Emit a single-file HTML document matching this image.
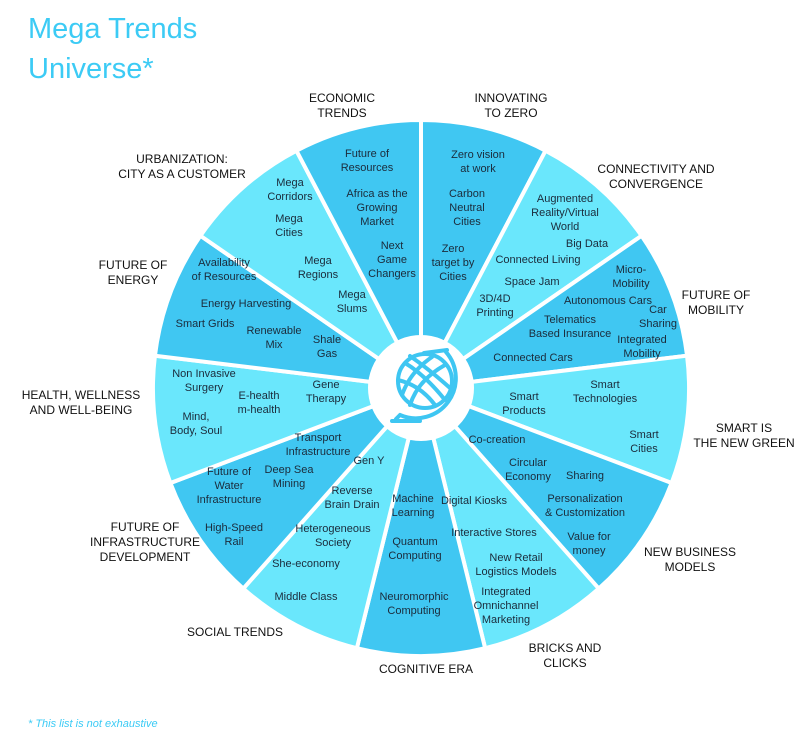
<!DOCTYPE html>
<html><head><meta charset="utf-8"><style>
body{margin:0;background:#fff;}
svg{display:block;font-family:"Liberation Sans",sans-serif;}
</style></head><body>
<svg id="c" width="800" height="751" viewBox="0 0 800 751">
<text x="28" y="38" font-size="29" fill="#3ccbf5">Mega Trends</text>
<text x="28" y="78" font-size="29" fill="#3ccbf5">Universe*</text>
<text x="28" y="727" font-size="11" font-style="italic" fill="#3ccbf5">* This list is not exhaustive</text>
<g id="sectors"></g><g id="items"></g><g id="labels"></g>
<g id="hub">
<circle cx="421" cy="388" r="53" fill="#fff"/>
<g fill="none" stroke="#3ec6f2" stroke-width="4" stroke-linecap="round">
<circle cx="425" cy="381" r="27"/>
<path d="M405 363 Q425 375 445 400 M398 380 Q420 385 435 405 M410 356 Q430 370 450 388 M410 405 Q418 380 445 365 M402 395 Q410 372 432 357"/>
<path d="M446 352 A40 40 0 0 1 400 415 M400 415 L396 419 M392 421 L420 421 M424 353 L447 350"/>
</g></g>
</svg>
<script>
const sectorNames=["INNOVATING TO ZERO","CONNECTIVITY AND CONVERGENCE","FUTURE OF MOBILITY","SMART IS THE NEW GREEN","NEW BUSINESS MODELS","BRICKS AND CLICKS","COGNITIVE ERA","SOCIAL TRENDS","FUTURE OF INFRASTRUCTURE DEVELOPMENT","HEALTH, WELLNESS AND WELL-BEING","FUTURE OF ENERGY","URBANIZATION: CITY AS A CUSTOMER","ECONOMIC TRENDS"];
const labelLines=[["INNOVATING","TO ZERO"],["CONNECTIVITY AND","CONVERGENCE"],["FUTURE OF","MOBILITY"],["SMART IS","THE NEW GREEN"],["NEW BUSINESS","MODELS"],["BRICKS AND","CLICKS"],["COGNITIVE ERA"],["SOCIAL TRENDS"],["FUTURE OF","INFRASTRUCTURE","DEVELOPMENT"],["HEALTH, WELLNESS","AND WELL-BEING"],["FUTURE OF","ENERGY"],["URBANIZATION:","CITY AS A CUSTOMER"],["ECONOMIC","TRENDS"]];
const labelPos=[[511,98],[656,169],[716,295],[744,428],[690,552],[565,648],[426,669],[235,632],[145,527],[81,395],[133,265],[182,159],[342,98]];
const items=[
[["Zero vision\nat work",478,161],["Carbon\nNeutral\nCities",467,207],["Zero\ntarget by\nCities",453,262]],
[["Augmented\nReality/Virtual\nWorld",565,212],["Big Data",587,243],["Connected Living",538,259],["Space Jam",532,281],["3D/4D\nPrinting",495,305]],
[["Micro-\nMobility",631,276],["Autonomous Cars",608,300],["Car\nSharing",658,316],["Telematics\nBased Insurance",570,326],["Integrated\nMobility",642,346],["Connected Cars",533,357]],
[["Smart\nProducts",524,403],["Smart\nTechnologies",605,391],["Smart\nCities",644,441]],
[["Co-creation",497,439],["Circular\nEconomy",528,469],["Sharing",585,475],["Personalization\n& Customization",585,505],["Value for\nmoney",589,543]],
[["Digital Kiosks",474,500],["Interactive Stores",494,532],["New Retail\nLogistics Models",516,564],["Integrated\nOmnichannel\nMarketing",506,605]],
[["Machine\nLearning",413,505],["Quantum\nComputing",415,548],["Neuromorphic\nComputing",414,603]],
[["Gen Y",369,460],["Reverse\nBrain Drain",352,497],["Heterogeneous\nSociety",333,535],["She-economy",306,563],["Middle Class",306,596]],
[["Transport\nInfrastructure",318,444],["Future of\nWater\nInfrastructure",229,485],["Deep Sea\nMining",289,476],["High-Speed\nRail",234,534]],
[["Non Invasive\nSurgery",204,380],["E-health\nm-health",259,402],["Gene\nTherapy",326,391],["Mind,\nBody, Soul",196,423]],
[["Availability\nof Resources",224,269],["Energy Harvesting",246,303],["Smart Grids",205,323],["Renewable\nMix",274,337],["Shale\nGas",327,346]],
[["Mega\nCorridors",290,189],["Mega\nCities",289,225],["Mega\nRegions",318,267],["Mega\nSlums",352,301]],
[["Future of\nResources",367,160],["Africa as the\nGrowing\nMarket",377,207],["Next\nGame\nChangers",392,259]]
];
const NS="http://www.w3.org/2000/svg",cx=421,cy=388,R=268,r0=50;
const step=360/sectorNames.length;
function pt(a,r){const t=a*Math.PI/180;return [cx+r*Math.cos(t),cy+r*Math.sin(t)];}
const sg=document.getElementById('sectors'),ig=document.getElementById('items'),lg=document.getElementById('labels');
sectorNames.forEach((n,i)=>{
 const a0=-90+i*step,a1=a0+step;
 const [x0,y0]=pt(a0,R),[x1,y1]=pt(a1,R),[x2,y2]=pt(a1,r0),[x3,y3]=pt(a0,r0);
 const p=document.createElementNS(NS,'path');
 p.setAttribute('d',`M${x3} ${y3}L${x0} ${y0}A${R} ${R} 0 0 1 ${x1} ${y1}L${x2} ${y2}A${r0} ${r0} 0 0 0 ${x3} ${y3}Z`);
 p.setAttribute('fill',i%2?'#6ae7fc':'#40c7f2');
 p.setAttribute('stroke','#fff');p.setAttribute('stroke-width','4');
 
 
 sg.appendChild(p);
 const lines=labelLines[i],[lx,ly]=labelPos[i];
 const t=document.createElementNS(NS,'text');
 
 
 t.setAttribute('font-size','12');t.setAttribute('fill','#111');t.setAttribute('text-anchor','middle');
 lines.forEach((l,k)=>{const s=document.createElementNS(NS,'tspan');s.setAttribute('x',lx);s.setAttribute('y',ly+4+k*15);s.textContent=l;t.appendChild(s);});
 lg.appendChild(t);
 items[i].forEach(([txt,x,y])=>{
  const ls=txt.split('\n');const e=document.createElementNS(NS,'text');
  
  
  e.setAttribute('font-size','11');e.setAttribute('fill','#1b2b3b');e.setAttribute('text-anchor','middle');
  const top=y-(ls.length-1)*14/2+4;
  ls.forEach((l,k)=>{const s=document.createElementNS(NS,'tspan');s.setAttribute('x',x);s.setAttribute('y',top+k*14);s.textContent=l;e.appendChild(s);});
  ig.appendChild(e);
 });
});
</script>
</body></html>
